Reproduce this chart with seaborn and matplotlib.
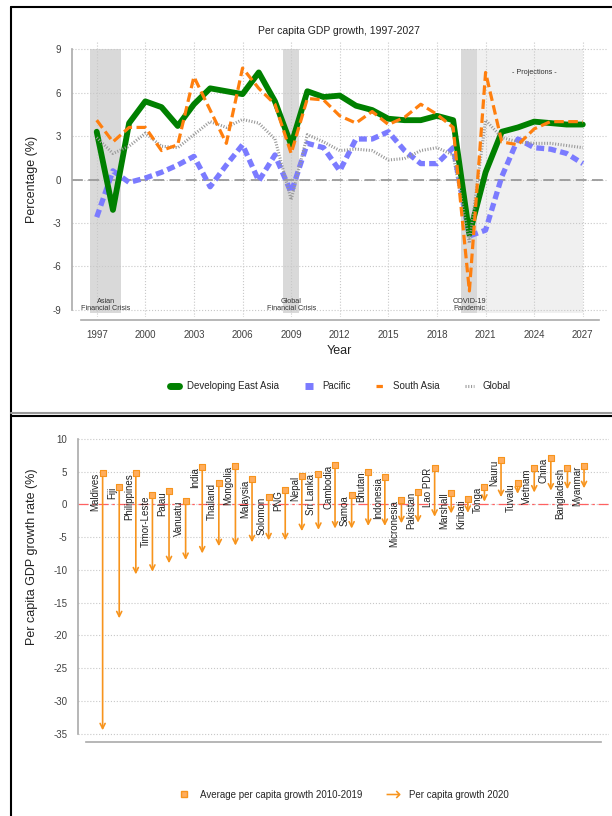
import numpy as np
import pandas as pd
import matplotlib
matplotlib.use("Agg")
import matplotlib.pyplot as plt
from matplotlib.lines import Line2D
from matplotlib.ticker import MultipleLocator
import seaborn as sns

# ---- top panel data: per capita GDP growth (%), 1997-2027 ----
years = list(range(1997, 2028))
east_asia = [3.3, -2.1, 3.9, 5.4, 5.0, 3.7, 5.2, 6.3, 6.1, 5.9, 7.4, 5.4, 2.4,
             6.1, 5.7, 5.8, 5.1, 4.8, 4.2, 4.1, 4.1, 4.4, 4.1,
             -3.8, 0.5, 3.3, 3.6, 4.0, 3.9, 3.8, 3.8]
pacific = [-2.6, 0.6, -0.2, 0.1, 0.5, 1.0, 1.6, -0.5, 1.0, 2.4, -0.1, 1.7, -0.9,
           2.5, 2.2, 0.6, 2.8, 2.8, 3.3, 2.0, 1.1, 1.1, 2.2,
           -3.9, -3.5, 0.2, 2.8, 2.2, 2.1, 1.8, 1.1]
south_asia = [4.1, 2.6, 3.6, 3.6, 2.0, 2.4, 7.1, 4.8, 2.5, 7.7, 6.3, 5.2, 1.8,
              5.6, 5.5, 4.4, 3.9, 4.7, 3.8, 4.3, 5.2, 4.5, 3.6,
              -7.7, 7.4, 2.6, 2.4, 3.5, 4.0, 4.0, 4.0]
global_growth = [2.9, 1.8, 2.3, 3.2, 2.3, 2.2, 3.1, 4.0, 3.6, 4.15, 3.9, 2.8, -1.4,
                 3.1, 2.6, 2.0, 2.1, 2.0, 1.35, 1.45, 2.0, 2.2, 1.7,
                 -4.4, 4.1, 2.9, 2.6, 2.5, 2.5, 2.35, 2.2]

crisis_names = ["Asian\nFinancial Crisis", "Global\nFinancial Crisis", "COVID-19\nPandemic"]
crisis_start = [1996.6, 2008.5, 2019.5]
crisis_end = [1998.5, 2009.5, 2020.5]
projection_start, projection_end = 2020.5, 2027

# ---- bottom panel data ----
countries = ["Maldives", "Fiji", "Philippines", "Timor-Leste", "Palau", "Vanuatu",
             "India", "Thailand", "Mongolia", "Malaysia", "Solomon", "PNG", "Nepal",
             "Sri Lanka", "Cambodia", "Samoa", "Bhutan", "Indonesia", "Micronesia",
             "Pakistan", "Lao PDR", "Marshall", "Kiribati", "Tonga", "Nauru", "Tuvalu",
             "Vietnam", "China", "Bangladesh", "Myanmar"]
avg_2010_2019 = [4.75, 2.7, 4.75, 1.4, 2.0, 0.5, 5.7, 3.3, 5.9, 3.8, 1.1, 2.2, 4.4,
                 4.6, 6.0, 1.4, 5.0, 4.2, 0.7, 1.9, 5.6, 1.8, 0.8, 2.7, 6.8, 3.2,
                 5.5, 7.1, 5.5, 5.9]
growth_2020 = [-34.5, -17.4, -10.7, -10.3, -9.0, -8.5, -7.5, -6.4, -6.3, -5.8, -5.5,
               -5.5, -4.1, -3.9, -3.7, -3.7, -3.3, -3.3, -2.9, -2.8, -1.9, -1.4,
               -1.3, 0.4, 1.1, 1.6, 1.8, 2.1, 2.3, 2.45]

sns.set_style("white")
plt.rcParams["font.family"] = ["Liberation Sans", "DejaVu Sans"]
plt.rcParams["axes.unicode_minus"] = False

fig = plt.figure(figsize=(6.12, 8.16), dpi=100)

# ================= top panel =================
ax = fig.add_axes([0.117, 0.6115, 0.875, 0.337])

regions = ["Pacific", "Developing East Asia", "Global", "South Asia"]
df = pd.DataFrame({
    "year": years * 4,
    "value": pacific + east_asia + global_growth + south_asia,
    "region": sum([[r] * len(years) for r in regions], []),
})
colors = {"Developing East Asia": "#008000", "Pacific": "#7b7bff",
          "South Asia": "#ff7f0e", "Global": "#999999"}
widths = {"Developing East Asia": 4.2, "Pacific": 3.8, "South Asia": 2.3, "Global": 2.2}
dash_map = {"Developing East Asia": "", "Pacific": (1.5, 0.8),
            "South Asia": (3.0, 1.4), "Global": (0.35, 0.55)}

# shaded periods
ax.fill_between([projection_start, projection_end], -9.2, 9, color="#f0f0f0", lw=0, zorder=0)
for name, x0, x1 in zip(crisis_names, crisis_start, crisis_end):
    ax.fill_between([x0, x1], -9.2, 9, color="#d9d9d9", lw=0, zorder=0.5)
    ax.text((x0 + x1) / 2, -8.7, name, ha="center", va="center",
            fontsize=5.2, color="#333333", linespacing=1.0, zorder=5)
ax.text(2024, 7.4, "- Projections -", ha="center", va="center", fontsize=5.2, color="#333333")

ax.axhline(0, color="#9a9a9a", lw=1.3, ls=(0, (6, 3)), zorder=1)

sns.lineplot(data=df, x="year", y="value", hue="region", style="region", size="region",
             hue_order=regions, style_order=regions, size_order=regions,
             palette=colors, dashes=dash_map, sizes=widths, legend=False, ax=ax, zorder=3)

ax.set_xlim(1995.45, 2028.5)
ax.set_ylim(-9.5, 9.5)
ax.set_xticks(range(1997, 2028, 3))
ax.xaxis.set_minor_locator(MultipleLocator(1))
ax.set_yticks(range(-9, 10, 3))
ax.yaxis.set_minor_locator(MultipleLocator(0.5))
ax.grid(True, which="major", color="#c8c8c8", ls=":", lw=0.8)
ax.set_axisbelow(True)
for s in ["top", "right"]:
    ax.spines[s].set_visible(False)
for s in ["left", "bottom"]:
    ax.spines[s].set_color("#aaaaaa")
    ax.spines[s].set_linewidth(1.2)
ax.spines["left"].set_bounds(-9, 9)
ax.spines["bottom"].set_bounds(1996, 2028)
ax.spines["bottom"].set_position(("outward", 2))
ax.tick_params(which="both", direction="out", color="#999999", width=0.8,
               labelsize=7, labelcolor="#404040")
ax.tick_params(axis="x", which="both", length=4)
ax.tick_params(axis="y", which="major", length=4)
ax.tick_params(axis="y", which="minor", length=2.5)
ax.set_title("Per capita GDP growth, 1997-2027", fontsize=7.5, color="#222222", pad=6)
ax.set_xlabel("Year", fontsize=9, color="#222222")
ax.set_ylabel("Percentage (%)", fontsize=9, color="#222222")
ax.xaxis.set_label_coords(0.5, -0.10)
ax.yaxis.set_label_coords(-0.063, 0.5)

handles = [
    Line2D([], [], color=colors["Developing East Asia"], lw=5),
    Line2D([], [], color=colors["Pacific"], lw=5, solid_capstyle="butt"),
    Line2D([], [], color=colors["South Asia"], lw=2.3, ls=(0, (2.0, 3.0))),
    Line2D([], [], color=colors["Global"], lw=2.2, ls=(0, (0.35, 0.55))),
]
fig.legend(handles, ["Developing East Asia", "Pacific", "South Asia", "Global"],
           loc="center", bbox_to_anchor=(0.556, 0.527), ncol=4, frameon=False,
           fontsize=7, handlelength=0.9, columnspacing=2.6, handletextpad=0.9)

# ================= bottom panel =================
bx = fig.add_axes([0.127, 0.0986, 0.868, 0.366])
pos = np.arange(len(countries))
cdf = pd.DataFrame({"pos": pos, "country": countries,
                    "avg": avg_2010_2019, "g2020": growth_2020})

for r in cdf.itertuples():
    bx.annotate("", xy=(r.pos, r.g2020), xytext=(r.pos, r.avg),
                arrowprops=dict(arrowstyle="->", color="#f7941d", lw=1.2,
                                shrinkA=0, shrinkB=0, mutation_scale=9), zorder=3)
    bx.text(r.pos - 0.12, r.avg, r.country, rotation=90, ha="right", va="top",
            fontsize=7, color="#222222", zorder=4)
sns.scatterplot(data=cdf, x="pos", y="avg", marker="s", s=14, color="#ffad5c",
                edgecolor="#f7941d", linewidth=0.8, ax=bx, zorder=5, legend=False)

bx.axhline(0, color="#ff6060", lw=0.9, ls=(0, (8, 3, 2, 3)), zorder=2)
bx.set_xlim(-1.5, 30.5)
bx.set_ylim(-35.3, 10.3)
bx.set_xticks(range(-1, 31))
bx.set_xticklabels([])
bx.set_yticks(range(-35, 11, 5))
bx.yaxis.set_minor_locator(MultipleLocator(1))
bx.grid(True, axis="y", which="major", color="#c8c8c8", ls=":", lw=0.8)
bx.set_axisbelow(True)
for s in ["top", "right"]:
    bx.spines[s].set_visible(False)
for s in ["left", "bottom"]:
    bx.spines[s].set_color("#aaaaaa")
    bx.spines[s].set_linewidth(1.2)
bx.spines["left"].set_bounds(-35, 10)
bx.spines["bottom"].set_bounds(-1, 30)
bx.spines["bottom"].set_position(("outward", 5))
bx.tick_params(which="both", direction="out", color="#999999", width=0.8,
               labelsize=7, labelcolor="#404040")
bx.tick_params(axis="x", length=4)
bx.tick_params(axis="y", which="major", length=4)
bx.tick_params(axis="y", which="minor", length=2.5)
bx.set_xlabel("")
bx.set_ylabel("Per capita GDP growth rate (%)", fontsize=9, color="#222222")
bx.yaxis.set_label_coords(-0.075, 0.60)

leg_handles = [
    Line2D([], [], marker="s", ls="none", color="#ffad5c", markeredgecolor="#f7941d", markersize=4),
    Line2D([], [], marker=r"$\rightarrow$", ls="none", color="#f7941d",
           markeredgewidth=0, markersize=10),
]
fig.legend(leg_handles, ["Average per capita growth 2010-2019", "Per capita growth 2020"],
           loc="center", bbox_to_anchor=(0.56, 0.026), ncol=2, frameon=False,
           fontsize=7, handlelength=1.5, columnspacing=2.5, handletextpad=0.8)

# panel frames
fig.add_artist(Line2D([0.0175, 0.0175], [0.991, 0.0], color="black", lw=1.5,
                      transform=fig.transFigure))
fig.add_artist(Line2D([0.0175, 1.0], [0.991, 0.991], color="black", lw=1.5,
                      transform=fig.transFigure))
fig.add_artist(Line2D([0.0175, 1.0], [0.4935, 0.4935], color="#999999", lw=1.5,
                      transform=fig.transFigure))
fig.add_artist(Line2D([0.0175, 1.0], [0.4902, 0.4902], color="black", lw=1.5,
                      transform=fig.transFigure))

fig.savefig("out.png", dpi=100)
